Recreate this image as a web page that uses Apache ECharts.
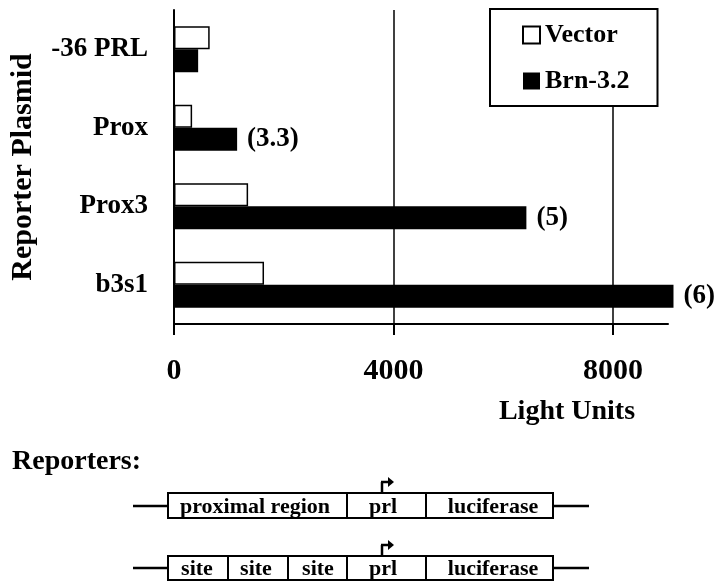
<!DOCTYPE html>
<html>
<head>
<meta charset="utf-8">
<script src="https://cdn.jsdelivr.net/npm/echarts@6/dist/echarts.min.js"></script>
<style>
  html, body { margin: 0; padding: 0; background: #fff; }
  #chart { width: 720px; height: 586px; }
</style>
</head>
<body>
<div id="chart"></div>
<script>
var plasmids = ['-36 PRL', 'Prox', 'Prox3', 'b3s1'];
var vectorUnits = [650, 330, 1350, 1640];
var brnUnits = [440, 1150, 6420, 9100];
var foldLabels = ['', '(3.3)', '(5)', '(6)'];
var xTicks = [0, 4000, 8000];

var serif = '"Liberation Serif", "Times New Roman", serif';

var chart = echarts.init(document.getElementById('chart'));

// little promoter diagrams under the chart
function box(x, y, w, h) {
  return { type: 'rect', shape: { x: x, y: y, width: w, height: h },
    style: { fill: '#fff', stroke: '#000', lineWidth: 2 } };
}
function seg(x1, y1, x2, y2, lw) {
  return { type: 'line', shape: { x1: x1, y1: y1, x2: x2, y2: y2 },
    style: { stroke: '#000', lineWidth: lw || 2 } };
}
function label(txt, x, y, size) {
  return { type: 'text', x: x, y: y,
    style: { text: txt, fill: '#000', font: 'bold ' + (size || 22) + 'px ' + serif,
      textAlign: 'center', textVerticalAlign: 'middle' } };
}
function arrow(x, yBox) {
  return [
    seg(x, yBox, x, yBox - 11, 2.5),
    seg(x - 1, yBox - 11, x + 7, yBox - 11, 2.5),
    { type: 'polygon', shape: { points: [[x + 6, yBox - 16], [x + 12, yBox - 11], [x + 6, yBox - 6]] },
      style: { fill: '#000' } }
  ];
}

var diagram = [
  { type: 'text', x: 12, y: 462,
    style: { text: 'Reporters:', fill: '#000', font: 'bold 28px ' + serif, textVerticalAlign: 'middle' } },
  seg(133, 506, 168, 506, 2.5), seg(553, 506, 589, 506, 2.5),
  box(168, 493, 385, 25), seg(347, 493, 347, 518), seg(426, 493, 426, 518),
  label('proximal region', 255, 507), label('prl', 383, 507), label('luciferase', 493, 507),
  seg(133, 568, 168, 568, 2.5), seg(553, 568, 589, 568, 2.5),
  box(168, 556, 385, 24), seg(228, 556, 228, 580), seg(288, 556, 288, 580),
  seg(347, 556, 347, 580), seg(426, 556, 426, 580),
  label('site', 197, 569), label('site', 256, 569), label('site', 318, 569),
  label('prl', 383, 569), label('luciferase', 493, 569),
  { type: 'text', x: 567, y: 412,
    style: { text: 'Light Units', fill: '#000', font: 'bold 28px ' + serif,
      textAlign: 'center', textVerticalAlign: 'middle' } }
].concat(arrow(382, 493), arrow(382, 556));

chart.setOption({
  animation: false,
  backgroundColor: '#fff',
  textStyle: { fontFamily: serif, color: '#000' },
  grid: { left: 174, right: 52, top: 10, bottom: 262 },
  legend: {
    data: ['Vector', 'Brn-3.2'],
    orient: 'vertical',
    left: 490,
    top: 9,
    icon: 'rect',
    itemWidth: 17,
    itemHeight: 17,
    itemGap: 20,
    padding: [13, 28, 12, 32],
    backgroundColor: '#fff',
    borderColor: '#000',
    borderWidth: 2,
    borderRadius: 0,
    textStyle: { fontSize: 26, fontWeight: 'bold', color: '#000', fontFamily: serif }
  },
  xAxis: {
    type: 'value',
    min: 0,
    max: 9000,
    axisLine: { show: true, lineStyle: { color: '#000', width: 2 } },
    axisTick: { show: true, length: 11, customValues: xTicks, lineStyle: { color: '#000', width: 2 } },
    axisLabel: { customValues: xTicks, formatter: function (v) { return String(v); },
      fontSize: 30, fontWeight: 'bold', color: '#000', fontFamily: serif, margin: 32 },
    splitLine: { show: true, lineStyle: { color: '#000', width: 1.5 } }
  },
  yAxis: {
    type: 'category',
    data: plasmids,
    inverse: true,
    name: 'Reporter Plasmid',
    nameLocation: 'middle',
    nameGap: 136,
    nameTextStyle: { fontSize: 30, fontWeight: 'bold', color: '#000', fontFamily: serif },
    axisLine: { lineStyle: { color: '#000', width: 2 } },
    axisTick: { show: false },
    axisLabel: { fontSize: 27, fontWeight: 'bold', color: '#000', fontFamily: serif, margin: 26 }
  },
  series: [
    {
      name: 'Vector',
      type: 'bar',
      data: vectorUnits,
      barWidth: 23,
      barGap: '0%',
      itemStyle: { color: '#fff', borderColor: '#000', borderWidth: 1.5 }
    },
    {
      name: 'Brn-3.2',
      type: 'bar',
      data: brnUnits,
      barWidth: 23,
      barGap: '0%',
      clip: false,
      itemStyle: { color: '#000' },
      label: {
        show: true,
        position: 'right',
        distance: 10,
        formatter: function (p) { return foldLabels[p.dataIndex]; },
        fontSize: 27,
        fontWeight: 'bold',
        color: '#000',
        fontFamily: serif
      }
    }
  ],
  graphic: diagram
});
</script>
</body>
</html>
